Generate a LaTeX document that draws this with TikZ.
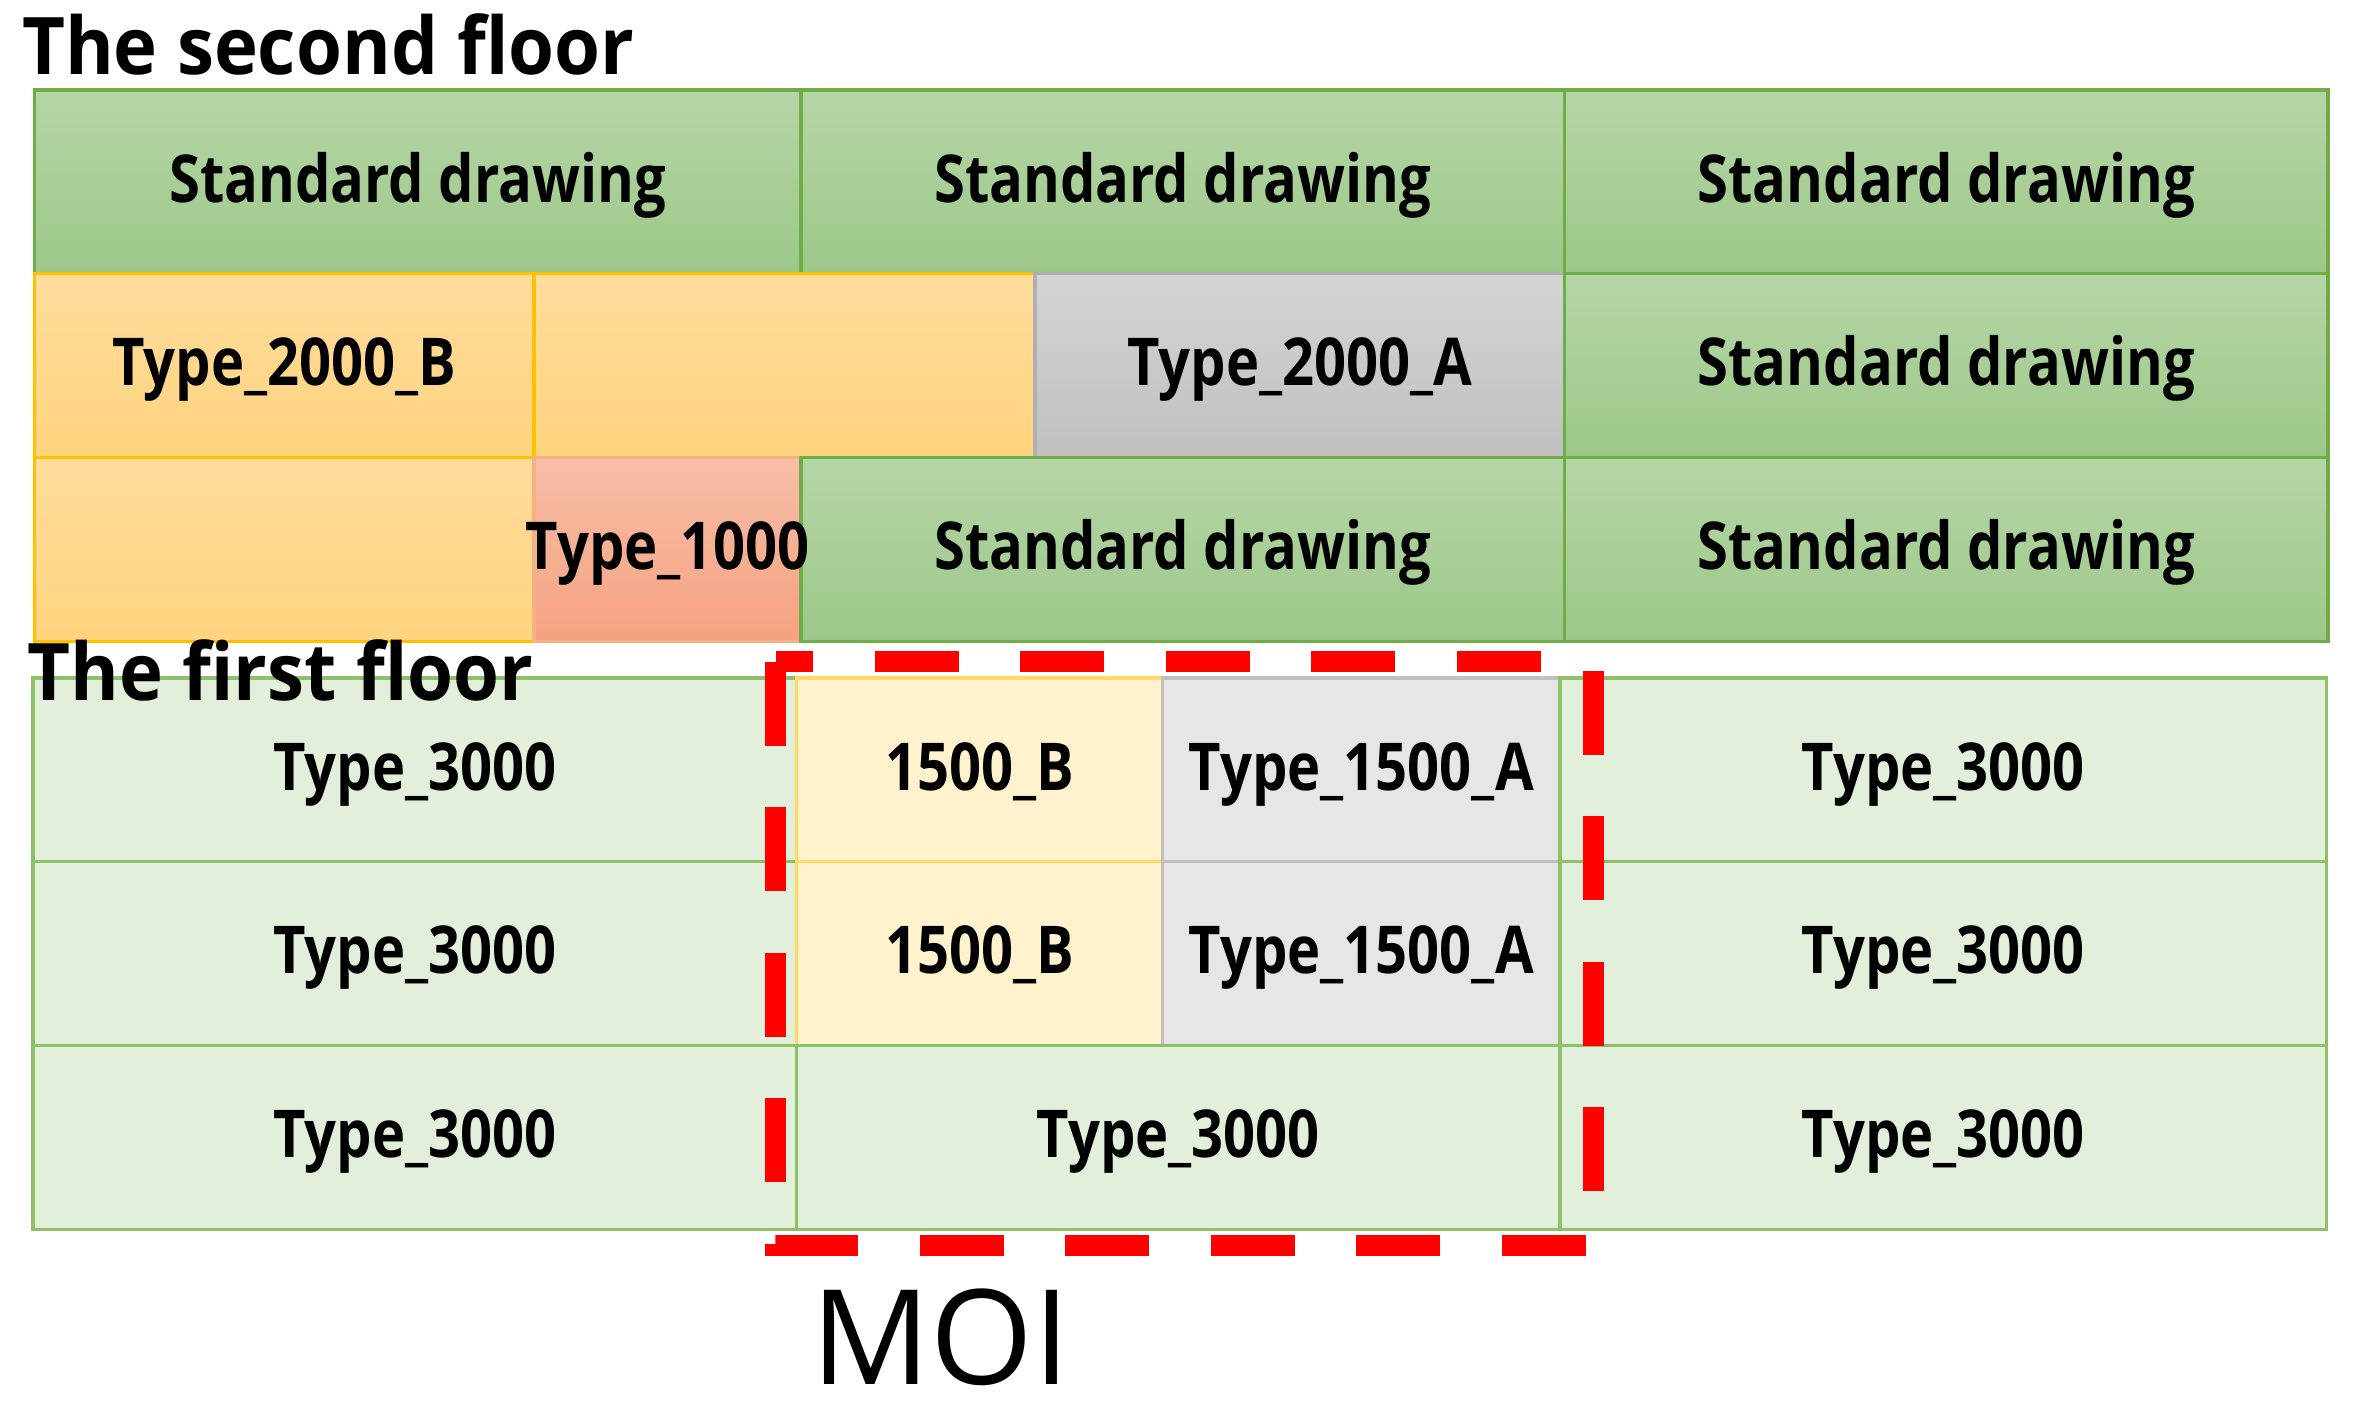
\documentclass[tikz,border=0pt]{standalone}
\usepackage{fontspec}
\usepackage{tikz}
\usetikzlibrary{positioning}
\usetikzlibrary{shapes,arrows}
\newfontfamily\cellfont[FakeStretch=0.85]{Open Sans}
\newfontfamily\titlefont[FakeStretch=0.935]{Open Sans}
\newfontfamily\moifont{Open Sans}
\definecolor{stdtop}{HTML}{B5D6A7}
\definecolor{stdbot}{HTML}{9DC888}
\definecolor{stdline}{HTML}{70AD47}
\definecolor{oratop}{HTML}{FFDC9C}
\definecolor{orabot}{HTML}{FFD47E}
\definecolor{oraline}{HTML}{FFC000}
\definecolor{gratop}{HTML}{D4D4D4}
\definecolor{grabot}{HTML}{C0C0C0}
\definecolor{graline}{HTML}{B0B0B0}
\definecolor{saltop}{HTML}{F8BEA7}
\definecolor{salbot}{HTML}{F5A281}
\definecolor{salline}{HTML}{F4B183}
\definecolor{lgreen}{HTML}{E2EFDA}
\definecolor{lgreenline}{HTML}{8CC168}
\definecolor{lyel}{HTML}{FFF2CC}
\definecolor{lyelline}{HTML}{FFD966}
\definecolor{lgray}{HTML}{E7E6E6}
\definecolor{lgrayline}{HTML}{BFBFBF}
\definecolor{moired}{HTML}{FF0000}
\tikzstyle{celltext} = [inner sep=0pt, outer sep=0pt, text height=32pt, text depth=5pt,
    font={\cellfont\bfseries\fontsize{44}{48}\selectfont}]
\tikzstyle{cell} = [celltext, rectangle, line width=2.2pt, minimum height=122.5pt]
\tikzstyle{std} = [cell, draw=stdline, top color=stdtop, bottom color=stdbot]
\tikzstyle{oran} = [cell, draw=oraline, top color=oratop, bottom color=orabot]
\tikzstyle{greyA} = [cell, draw=graline, top color=gratop, bottom color=grabot]
\tikzstyle{salmon} = [cell, draw=salline, top color=saltop, bottom color=salbot]
\tikzstyle{tythree} = [cell, draw=lgreenline, fill=lgreen]
\tikzstyle{tyb} = [cell, draw=lyelline, fill=lyel]
\tikzstyle{tya} = [cell, draw=lgrayline, fill=lgray]
\tikzstyle{floorname} = [anchor=base west, inner sep=0pt,
    font={\titlefont\bfseries\fontsize{53}{56}\selectfont}]
\tikzstyle{moibox} = [draw=moired, line width=14pt, dash pattern=on 56pt off 41pt]
\tikzstyle{moiname} = [anchor=base, inner sep=0pt,
    font={\moifont\fontsize{88}{92}\selectfont}]

\begin{document}
\begin{tikzpicture}[x=1pt, y=-1pt]
    \useasboundingbox (0,0) rectangle (1568.67,942);
    % Place nodes
    % second floor
    \node [std, minimum width=511pt, anchor=north west] (sd11) at (23,60) {Standard drawing};
    \node [std, minimum width=509pt, right=0pt of sd11] (sd12) {Standard drawing};
    \node [std, minimum width=509pt, right=0pt of sd12] (sd13) {Standard drawing};
    \node [oran, minimum width=333pt, below right=0pt and 0pt of sd11.south west] (sd21) {Type\_2000\_B};
    \node [oran, minimum width=334pt, right=0pt of sd21] (sd22) {};
    \node [greyA, minimum width=353pt, right=0pt of sd22] (sd23) {Type\_2000\_A};
    \node [std, minimum width=509pt, right=0pt of sd23] (sd24) {Standard drawing};
    \node [oran, minimum width=333pt, below right=0pt and 0pt of sd21.south west] (sd31) {};
    \node [salmon, minimum width=178pt, right=0pt of sd31] (sd32) {};
    \node [std, minimum width=509pt, right=0pt of sd32] (sd33) {Standard drawing};
    \node [std, minimum width=509pt, right=0pt of sd33] (sd34) {Standard drawing};
    \node [celltext] (t1000) at (sd32) {Type\_1000};

    % first floor
    \node [tythree, minimum width=509pt, anchor=north west] (ff11) at (22,452) {Type\_3000};
    \node [tyb, minimum width=244pt, right=0pt of ff11] (ff12) {1500\_B};
    \node [tya, minimum width=265pt, right=0pt of ff12] (ff13) {Type\_1500\_A};
    \node [tythree, minimum width=511pt, right=0pt of ff13] (ff14) {Type\_3000};
    \node [tythree, minimum width=509pt, below right=0pt and 0pt of ff11.south west] (ff21) {Type\_3000};
    \node [tyb, minimum width=244pt, right=0pt of ff21] (ff22) {1500\_B};
    \node [tya, minimum width=265pt, right=0pt of ff22] (ff23) {Type\_1500\_A};
    \node [tythree, minimum width=511pt, right=0pt of ff23] (ff24) {Type\_3000};
    \node [tythree, minimum width=509pt, below right=0pt and 0pt of ff21.south west] (ff31) {Type\_3000};
    \node [tythree, minimum width=509pt, right=0pt of ff31] (ff32) {Type\_3000};
    \node [tythree, minimum width=511pt, right=0pt of ff32] (ff33) {Type\_3000};

    % floor names
    \node [floorname] (second) at (14.5,50) {The second floor};
    \node [floorname] (first) at (18,467) {The first floor};

    % MOI
    \draw [moibox] (517,441) rectangle (1062,830);
    \node [moiname] (moi) at (627,923) {MOI};
\end{tikzpicture}
\end{document}
